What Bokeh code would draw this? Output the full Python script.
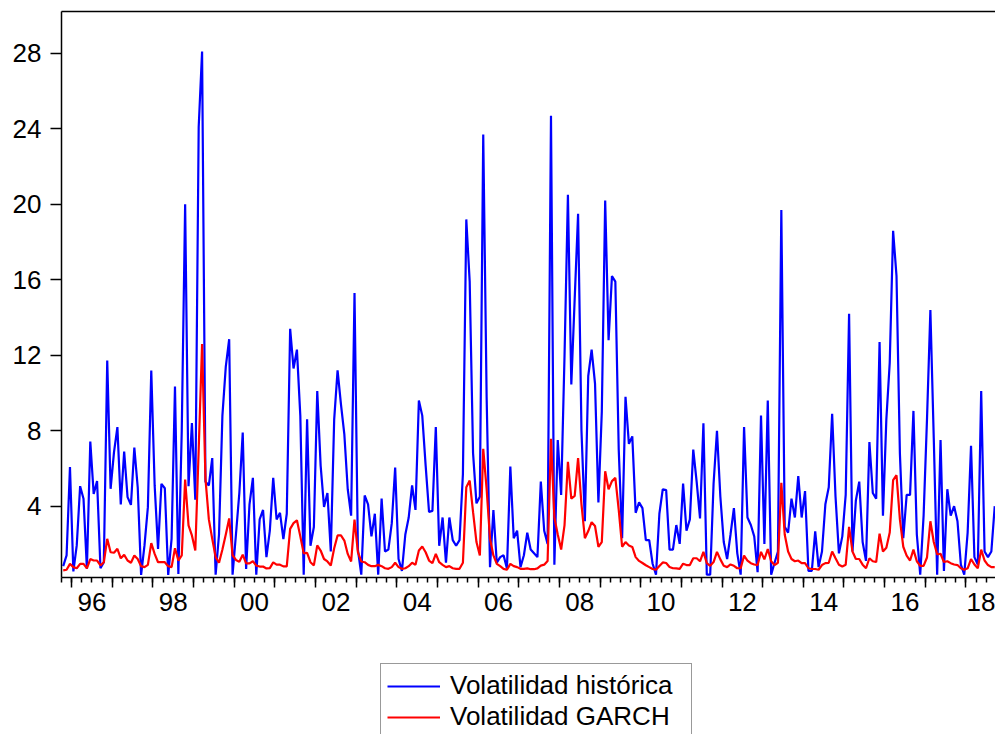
from bokeh.plotting import figure
from bokeh.layouts import column
from bokeh.models import Range1d, FixedTicker, LinearAxis, Legend, LegendItem, ColumnDataSource
from bokeh.embed import file_html
from bokeh.resources import INLINE

# Monthly observations, first one = October 1995
start_year = 1995
start_month = 10

vol_historica = [
    0.82, 1.39, 6.07, 0.54, 1.92, 5.06, 4.39, 0.68, 7.43, 4.65,
    5.33, 0.71, 1.03, 11.72, 4.92, 6.86, 8.19, 4.09, 6.90, 4.48,
    4.07, 7.11, 5.00, 0.36, 1.92, 3.95, 11.19, 5.10, 1.74, 5.18,
    4.95, 0.36, 2.27, 10.34, 0.41, 8.00, 20.00, 5.06, 8.40, 4.34,
    24.10, 28.10, 5.30, 5.10, 6.55, 0.37, 2.50, 8.80, 11.40, 12.85,
    0.37, 2.50, 4.70, 7.90, 0.67, 4.10, 5.50, 0.37, 3.30, 3.80,
    1.30, 2.70, 5.50, 3.30, 3.65, 2.25, 3.60, 13.40, 11.30, 12.30,
    8.80, 0.37, 8.60, 1.90, 2.90, 10.10, 6.15, 3.96, 4.70, 1.60,
    8.60, 11.20, 9.40, 7.80, 4.90, 3.50, 15.30, 1.70, 0.37, 4.57,
    4.10, 2.40, 3.60, 0.37, 4.40, 1.60, 1.70, 3.10, 6.05, 1.20,
    0.57, 2.50, 3.40, 5.10, 3.80, 9.60, 8.80, 6.15, 3.70, 3.75,
    8.20, 1.90, 3.40, 1.00, 3.40, 2.20, 1.90, 2.20, 5.70, 19.20,
    15.90, 6.80, 4.15, 4.50, 23.70, 9.80, 0.77, 3.80, 1.00, 1.30,
    1.40, 0.70, 6.10, 2.30, 2.70, 0.77, 1.40, 2.60, 1.70, 1.50,
    1.30, 5.30, 2.70, 2.00, 24.70, 0.90, 7.50, 4.60, 12.00, 20.50,
    10.45, 15.00, 19.50, 8.00, 3.20, 10.90, 12.30, 10.50, 4.20, 9.00,
    20.20, 12.80, 16.20, 15.90, 7.00, 2.30, 9.80, 7.30, 7.70, 3.65,
    4.20, 3.90, 2.20, 2.20, 0.95, 0.37, 3.60, 4.90, 4.85, 1.70,
    1.70, 3.00, 2.00, 5.20, 2.70, 3.30, 7.00, 5.30, 3.35, 8.40,
    0.37, 0.37, 5.20, 8.00, 4.50, 2.10, 1.20, 2.50, 3.90, 1.50,
    0.37, 8.20, 3.40, 3.00, 2.40, 0.50, 8.80, 2.00, 9.60, 0.37,
    1.00, 1.60, 19.70, 2.90, 2.60, 4.40, 3.40, 5.60, 3.40, 4.80,
    0.57, 0.57, 2.66, 0.77, 1.60, 4.10, 5.00, 8.90, 4.50, 1.50,
    2.40, 4.60, 14.20, 1.60, 4.30, 5.30, 2.10, 1.10, 7.40, 4.70,
    4.40, 12.70, 3.50, 8.60, 11.60, 18.60, 16.20, 6.80, 2.30, 4.60,
    4.60, 9.05, 2.50, 0.37, 3.50, 8.60, 14.40, 7.60, 0.37, 7.50,
    0.57, 4.90, 3.50, 4.00, 3.20, 0.90, 0.37, 2.60, 7.20, 1.30,
    0.90, 10.10, 1.60, 1.30, 1.60, 4.00,
]

vol_garch = [
    0.60, 0.63, 0.94, 0.77, 0.71, 0.94, 0.94, 0.71, 1.20, 1.12,
    1.12, 0.86, 1.03, 2.27, 1.56, 1.53, 1.74, 1.24, 1.42, 1.12,
    1.00, 1.39, 1.20, 0.82, 0.77, 0.89, 2.04, 1.47, 1.03, 1.03,
    1.03, 0.82, 0.77, 1.77, 1.12, 1.39, 5.41, 2.98, 2.45, 1.65,
    7.00, 12.60, 5.45, 3.30, 2.27, 1.30, 1.00, 1.70, 2.50, 3.35,
    1.40, 1.15, 1.05, 1.43, 0.97, 0.97, 1.08, 0.85, 0.80, 0.80,
    0.70, 0.72, 1.02, 0.90, 0.90, 0.81, 0.81, 2.80, 3.10, 3.25,
    2.40, 1.50, 1.53, 1.03, 0.86, 1.92, 1.65, 1.20, 1.07, 0.86,
    1.77, 2.45, 2.45, 2.18, 1.47, 1.07, 3.29, 1.56, 1.07, 1.03,
    0.89, 0.82, 0.82, 0.89, 0.82, 0.71, 0.68, 0.77, 1.00, 0.77,
    0.68, 0.71, 0.82, 1.00, 0.89, 1.65, 1.86, 1.56, 1.12, 0.98,
    1.47, 1.03, 0.89, 0.77, 0.82, 0.71, 0.68, 0.68, 1.00, 5.00,
    5.36, 3.68, 2.10, 1.39, 7.04, 4.92, 2.27, 1.39, 0.94, 0.82,
    0.68, 0.63, 0.94, 0.82, 0.77, 0.68, 0.68, 0.70, 0.66, 0.66,
    0.70, 0.85, 0.90, 1.10, 7.57, 3.40, 2.50, 1.70, 3.00, 6.35,
    4.40, 4.55, 6.55, 4.10, 2.30, 2.68, 3.15, 2.95, 1.85, 2.10,
    5.85, 4.90, 5.33, 5.50, 3.80, 1.85, 2.10, 1.92, 1.84, 1.30,
    1.10, 0.99, 0.87, 0.77, 0.67, 0.63, 0.83, 1.02, 0.99, 0.78,
    0.71, 0.70, 0.68, 0.95, 0.88, 0.88, 1.24, 1.24, 1.08, 1.58,
    0.98, 0.84, 1.04, 1.58, 1.18, 0.84, 0.77, 0.91, 0.84, 0.71,
    0.71, 1.38, 1.12, 0.98, 0.91, 0.88, 1.58, 1.18, 1.73, 1.08,
    0.88, 1.00, 5.24, 2.50, 1.60, 1.20, 1.08, 1.12, 0.98, 0.98,
    0.71, 0.67, 0.67, 0.63, 0.88, 0.98, 1.00, 1.60, 1.24, 0.90,
    0.80, 0.90, 2.90, 1.60, 1.20, 1.20, 0.90, 0.71, 1.24, 1.08,
    1.04, 2.54, 1.60, 1.80, 2.60, 5.38, 5.64, 3.30, 1.85, 1.38,
    1.12, 1.70, 1.08, 0.84, 0.84, 1.28, 3.20, 2.10, 1.45, 1.48,
    1.04, 1.08, 0.98, 0.91, 0.88, 0.71, 0.63, 0.71, 1.20, 0.91,
    0.71, 1.70, 1.12, 0.88, 0.77, 0.77,
]

year_ticks = list(range(1996, 2019))
label_years = [1996, 1998, 2000, 2002, 2004, 2006, 2008, 2010, 2012, 2014, 2016, 2018]
year_labels = ["96", "98", "00", "02", "04", "06", "08", "10", "12", "14", "16", "18"]
y_ticks = [4, 8, 12, 16, 20, 24, 28]
series_names = ["Volatilidad histórica", "Volatilidad GARCH"]
series_colors = ["#0000FF", "#FF0000"]

n = min(len(vol_historica), len(vol_garch))
t = [start_year + (start_month - 1 + k + 0.5) / 12.0 for k in range(n)]
src = ColumnDataSource(dict(t=t, hist=vol_historica[:n], garch=vol_garch[:n]))

x_start = start_year + (start_month - 1) / 12.0
FONT = "Liberation Sans"
FS = "26px"

# ---------------- main chart ----------------
p = figure(width=995, height=650, output_backend="svg", toolbar_location=None,
           x_range=Range1d(x_start, x_start + 22.977), y_range=Range1d(0.22, 30.22),
           x_axis_type=None, y_axis_type=None,
           min_border_left=61, min_border_right=0, min_border_top=11, min_border_bottom=73)
p.outline_line_color = None
p.background_fill_color = "white"
p.border_fill_color = "white"

top = LinearAxis(ticker=FixedTicker(ticks=[]), major_tick_out=0, major_tick_in=0,
                 minor_tick_out=0, minor_tick_in=0, major_label_standoff=0,
                 major_label_text_font_size="0px", axis_line_color="black", axis_line_width=1.5)
p.add_layout(top, "above")

yax = LinearAxis(ticker=FixedTicker(ticks=y_ticks, minor_ticks=[]),
                 major_tick_out=11, major_tick_in=0, minor_tick_out=0, minor_tick_in=0,
                 major_label_standoff=9, major_label_text_font=FONT,
                 major_label_text_font_size=FS, major_label_text_color="black",
                 axis_line_color="black", axis_line_width=1.5,
                 major_tick_line_color="black", major_tick_line_width=1.5)
p.add_layout(yax, "left")

quarters = [x_start + 0.25 * i for i in range(0, 95)]
xax = LinearAxis(ticker=FixedTicker(ticks=year_ticks, minor_ticks=quarters),
                 major_tick_out=10, major_tick_in=0, minor_tick_out=5, minor_tick_in=0,
                 major_label_standoff=0, major_label_text_font_size="0px",
                 major_label_overrides={y: "" for y in year_ticks},
                 axis_line_color="black", axis_line_width=1.5,
                 major_tick_line_color="black", major_tick_line_width=1.5,
                 minor_tick_line_color="black", minor_tick_line_width=1.5)
p.add_layout(xax, "below")

mid = [y + 0.5 for y in label_years]
xlab = LinearAxis(ticker=FixedTicker(ticks=mid, minor_ticks=[]),
                  major_tick_out=0, major_tick_in=0, minor_tick_out=0, minor_tick_in=0,
                  axis_line_color=None, major_tick_line_color=None, minor_tick_line_color=None,
                  major_label_standoff=5, major_label_text_font=FONT,
                  major_label_text_font_size=FS, major_label_text_color="black",
                  major_label_overrides={m: lab for m, lab in zip(mid, year_labels)})
p.add_layout(xlab, "below")

p.line("t", "hist", source=src, line_color=series_colors[0], line_width=2.2)
p.line("t", "garch", source=src, line_color=series_colors[1], line_width=2.2)

# ---------------- legend strip (same series, drawn out of view; only the key shows) ----------------
q = figure(width=995, height=84, output_backend="svg", toolbar_location=None,
           x_range=Range1d(x_start, x_start + 22.977), y_range=Range1d(1000, 1001),
           x_axis_type=None, y_axis_type=None,
           min_border_left=0, min_border_right=0, min_border_top=0, min_border_bottom=0)
q.outline_line_color = None
q.background_fill_color = "white"
q.border_fill_color = "white"
k1 = q.line("t", "hist", source=src, line_color=series_colors[0], line_width=2.2)
k2 = q.line("t", "garch", source=src, line_color=series_colors[1], line_width=2.2)

legend = Legend(items=[LegendItem(label=series_names[0], renderers=[k1]),
                       LegendItem(label=series_names[1], renderers=[k2])],
                location=(319, -5), orientation="vertical",
                label_text_font=FONT, label_text_font_size=FS, label_text_color="black",
                glyph_width=53, glyph_height=26, label_height=26, label_width=235,
                label_standoff=10, spacing=0, padding=6, margin=0,
                border_line_color="#333333", border_line_width=1,
                background_fill_color="white", background_fill_alpha=1.0)
q.add_layout(legend, "center")

layout = column(p, q, spacing=0)
open("out.html", "w").write(file_html(layout, INLINE))
